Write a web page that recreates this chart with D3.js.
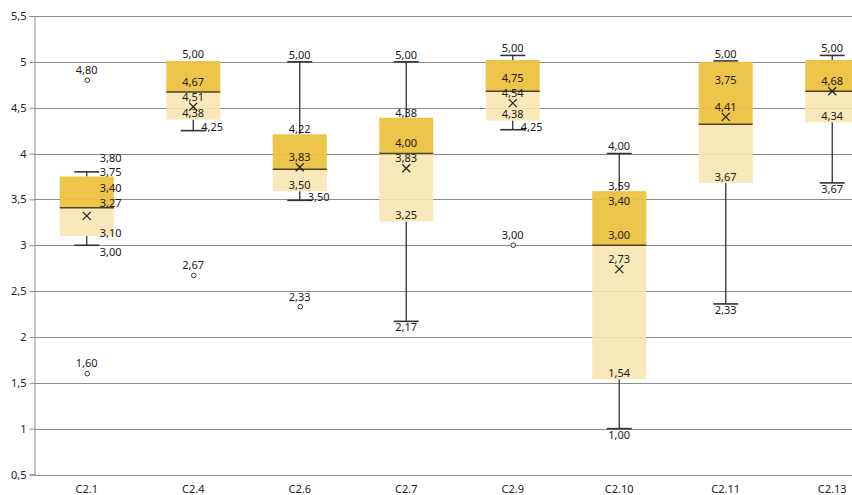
<!DOCTYPE html>
<html>
<head>
<meta charset="utf-8">
<script src="https://cdn.jsdelivr.net/npm/d3@7"></script>
<style>
  body { margin: 0; background: #fff; }
  svg { display: block; font-family: "Noto Sans", sans-serif; }
</style>
</head>
<body>
<div id="chart"></div>
<script>
// values
const categories = ["C2.1", "C2.4", "C2.6", "C2.7", "C2.9", "C2.10", "C2.11", "C2.13"];
const mins    = [3.00, 4.25, 3.49, 2.17, 4.26, 1.00, 2.36, 3.68];
const q1s     = [3.10, 4.37, 3.59, 3.26, 4.36, 1.54, 3.68, 4.34];
const medians = [3.41, 4.67, 3.83, 4.00, 4.68, 3.00, 4.32, 4.68];
const q3s     = [3.75, 5.01, 4.21, 4.39, 5.02, 3.59, 5.00, 5.02];
const maxs    = [3.80, 5.01, 5.00, 5.00, 5.07, 4.00, 5.01, 5.07];
const means   = [3.32, 4.51, 3.85, 3.84, 4.55, 2.74, 4.40, 4.68];
const outliers = [[4.80, 1.60], [2.67], [2.33], [], [3.00], [], [], []];

// data label texts as printed
const maxLabels    = ["3,80", "5,00", "5,00", "5,00", "5,00", "4,00", "5,00", "5,00"];
const q3Labels     = ["3,75", null, "4,22", "4,38", "4,75", "3,59", "3,75", null];
const medianLabels = ["3,40", "4,67", null, "4,00", null, "3,00", null, "4,68"];
const meanLabels   = ["3,27", "4,51", "3,83", "3,83", "4,54", "2,73", "4,41", null];
const q1Labels     = ["3,10", "4,38", "3,50", "3,25", "4,38", "1,54", "3,67", "4,34"];
const minLabels    = ["3,00", "4,25", "3,50", "2,17", "4,25", "1,00", "2,33", "3,67"];
const extraLabels  = [{ cat: "C2.10", value: 3.40, text: "3,40" }];

const yTicks = [0.5, 1, 1.5, 2, 2.5, 3, 3.5, 4, 4.5, 5, 5.5];

const width = 852, height = 495;
const dark = "#ecc240", light = "#f7e6b3";
const sideLabelCats = new Set(["C2.1"]);

// label offsets (px) from the value, centred vs. beside the box
const offCenter = { max: -7, q3: -5, med: -10, mean: -10, q1: -6, min: 6 };
const offSide   = { max: -14, q3: -4, med: -20, mean: -13, q1: -3, min: 7 };

const fmt = d3.formatLocale({ decimal: ",", thousands: ".", grouping: [3], currency: ["", ""] });
const tickFmt = fmt.format("~g");
const valFmt = fmt.format(".2f");

const svg = d3.select("#chart").append("svg")
    .attr("width", width)
    .attr("height", height);

const y = d3.scaleLinear().domain([0.5, 5.5]).range([474.5, 16]);
const x = d3.scaleBand().domain(categories).range([33.5, 885.5]).padding(0);
const cx = c => x(c) + x.bandwidth() / 2;
const boxW = 54, capW = 25;

// grid
svg.append("g")
    .selectAll("line")
    .data(yTicks)
    .join("line")
    .attr("x1", 34).attr("x2", width)
    .attr("y1", d => Math.round(y(d)) + 0.5).attr("y2", d => Math.round(y(d)) + 0.5)
    .attr("stroke", "#8c8c8c")
    .attr("stroke-width", 1);

// y axis
const yAxis = svg.append("g")
    .attr("transform", "translate(34.5,0)")
    .call(d3.axisLeft(y).tickValues(yTicks).tickFormat(tickFmt).tickSize(5).tickPadding(3));
yAxis.select(".domain").attr("stroke", "#8c8c8c");
yAxis.selectAll(".tick line").attr("stroke", "#8c8c8c");
yAxis.selectAll("text").attr("fill", "#222").style("font-size", "11px").style("font-family", "Noto Sans");

// x labels
svg.append("g")
    .selectAll("text")
    .data(categories)
    .join("text")
    .attr("x", d => cx(d))
    .attr("y", 489)
    .attr("dy", "0.35em")
    .attr("text-anchor", "middle")
    .attr("fill", "#222")
    .style("font-size", "11px")
    .text(d => d);

const rows = categories.map((c, i) => ({
    cat: c, min: mins[i], q1: q1s[i], med: medians[i], q3: q3s[i], max: maxs[i], mean: means[i], out: outliers[i], i
}));

const g = svg.append("g");

// whiskers
rows.forEach(d => {
    const xc = cx(d.cat);
    const wg = g.append("g").attr("stroke", "#333").attr("stroke-width", 1.3);
    if (d.max > d.q3) {
        wg.append("line").attr("x1", xc).attr("x2", xc).attr("y1", y(d.max)).attr("y2", y(d.q3));
        wg.append("line").attr("x1", xc - capW / 2).attr("x2", xc + capW / 2).attr("y1", y(d.max)).attr("y2", y(d.max)).attr("stroke-width", 1.6);
    }
    if (d.min < d.q1) {
        wg.append("line").attr("x1", xc).attr("x2", xc).attr("y1", y(d.q1)).attr("y2", y(d.min));
        wg.append("line").attr("x1", xc - capW / 2).attr("x2", xc + capW / 2).attr("y1", y(d.min)).attr("y2", y(d.min)).attr("stroke-width", 1.6);
    }
});

// boxes
g.selectAll("rect.lower")
    .data(rows)
    .join("rect")
    .attr("class", "lower")
    .attr("x", d => cx(d.cat) - boxW / 2)
    .attr("width", boxW)
    .attr("y", d => y(d.med))
    .attr("height", d => y(d.q1) - y(d.med))
    .attr("fill", light)
    .attr("fill-opacity", 0.9);

g.selectAll("rect.upper")
    .data(rows)
    .join("rect")
    .attr("class", "upper")
    .attr("x", d => cx(d.cat) - boxW / 2)
    .attr("width", boxW)
    .attr("y", d => y(d.q3))
    .attr("height", d => y(d.med) - y(d.q3))
    .attr("fill", dark)
    .attr("fill-opacity", 0.95);

// medians
g.selectAll("line.median")
    .data(rows)
    .join("line")
    .attr("class", "median")
    .attr("x1", d => cx(d.cat) - boxW / 2)
    .attr("x2", d => cx(d.cat) + boxW / 2)
    .attr("y1", d => y(d.med))
    .attr("y2", d => y(d.med))
    .attr("stroke", "#4a4228")
    .attr("stroke-width", 1.5);

// mean markers
const m = 4;
g.selectAll("path.mean")
    .data(rows)
    .join("path")
    .attr("class", "mean")
    .attr("d", d => {
        const px = cx(d.cat), py = y(d.mean);
        return `M${px - m},${py - m}L${px + m},${py + m}M${px - m},${py + m}L${px + m},${py - m}`;
    })
    .attr("stroke", "#222")
    .attr("stroke-width", 1.3)
    .attr("fill", "none");

// outliers
const outPts = rows.flatMap(d => d.out.map(v => ({ cat: d.cat, v })));
g.selectAll("circle.out")
    .data(outPts)
    .join("circle")
    .attr("class", "out")
    .attr("cx", d => cx(d.cat) + 0.5)
    .attr("cy", d => y(d.v))
    .attr("r", 2.3)
    .attr("fill", "#fff")
    .attr("stroke", "#333")
    .attr("stroke-width", 1);

// data labels
const labels = [];
rows.forEach(d => {
    const i = d.i;
    const xc = cx(d.cat);
    const side = sideLabelCats.has(d.cat);
    const o = side ? offSide : offCenter;
    const lx = side ? xc + 13 : xc;
    const anchor = side ? "start" : "middle";
    const add = (text, py, ax = lx, an = anchor) => {
        if (text) labels.push({ text, x: ax, y: py, anchor: an });
    };
    add(maxLabels[i], y(d.max) + o.max);
    if (!side && Math.abs(y(d.q3) - y(d.max)) < 12) add(q3Labels[i], y(d.q3) + 18);
    else add(q3Labels[i], y(d.q3) + o.q3);
    add(medianLabels[i], y(d.med) + o.med);
    add(meanLabels[i], y(d.mean) + o.mean);
    add(q1Labels[i], y(d.q1) + o.q1);
    if (!side && y(d.min) - y(d.q1) < 16) add(minLabels[i], y(d.min) - 3, xc + 8, "start");
    else add(minLabels[i], y(d.min) + o.min);
    d.out.forEach(v => add(valFmt(v), y(v) - 10, xc, "middle"));
});
extraLabels.forEach(e => labels.push({ text: e.text, x: cx(e.cat), y: y(e.value) - 7, anchor: "middle" }));

svg.append("g")
    .selectAll("text")
    .data(labels)
    .join("text")
    .attr("x", d => d.x)
    .attr("y", d => d.y)
    .attr("dy", "0.35em")
    .attr("text-anchor", d => d.anchor)
    .attr("fill", "#1a1a1a")
    .style("font-size", "11px")
    .text(d => d.text);
</script>
</body>
</html>
